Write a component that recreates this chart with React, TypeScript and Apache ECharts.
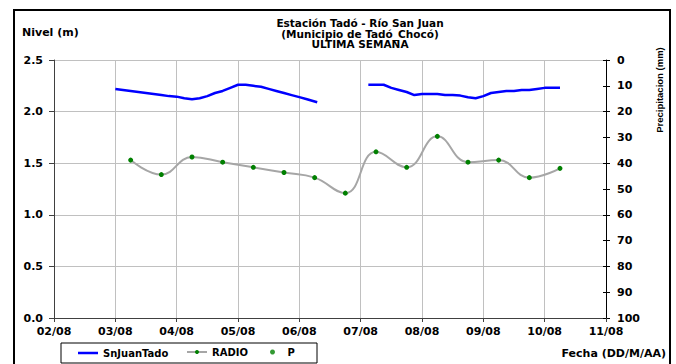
import React, { useEffect, useRef } from "react";
import * as echarts from "echarts";

const dayLabels = ["02/08", "03/08", "04/08", "05/08", "06/08", "07/08", "08/08", "09/08", "10/08", "11/08"];

const titleLines = ["Estación Tadó - Río San Juan", "(Municipio de Tadó_Chocó)", "ULTIMA SEMANA"];

const levelTimes = [
  "03/08 00:00", "03/08 03:00", "03/08 06:00", "03/08 09:00", "03/08 12:00", "03/08 15:00", "03/08 18:00", "03/08 21:00",
  "04/08 00:00", "04/08 03:00", "04/08 06:00", "04/08 09:00", "04/08 12:00", "04/08 15:00", "04/08 18:00", "04/08 21:00",
  "05/08 00:00", "05/08 03:00", "05/08 06:00", "05/08 09:00", "05/08 12:00", "05/08 15:00", "05/08 18:00", "05/08 21:00",
  "06/08 00:00", "06/08 03:00", "06/08 07:00",
  "06/08 18:00",
  "07/08 03:00", "07/08 06:00", "07/08 09:00", "07/08 12:00", "07/08 15:00", "07/08 18:00", "07/08 21:00",
  "08/08 00:00", "08/08 03:00", "08/08 06:00", "08/08 09:00", "08/08 12:00", "08/08 15:00", "08/08 18:00", "08/08 21:00",
  "09/08 00:00", "09/08 03:00", "09/08 06:00", "09/08 09:00", "09/08 12:00", "09/08 15:00", "09/08 18:00", "09/08 21:00",
  "10/08 00:00", "10/08 03:00", "10/08 06:00",
];
const levelValues: (number | null)[] = [
  2.22, 2.21, 2.2, 2.19, 2.18, 2.17, 2.16, 2.15,
  2.145, 2.13, 2.12, 2.13, 2.15, 2.18, 2.2, 2.23,
  2.26, 2.26, 2.25, 2.24, 2.22, 2.2, 2.18, 2.16,
  2.14, 2.12, 2.09,
  null,
  2.26, 2.26, 2.26, 2.23, 2.21, 2.19, 2.16,
  2.17, 2.17, 2.17, 2.16, 2.16, 2.155, 2.14, 2.13,
  2.15, 2.18, 2.19, 2.2, 2.2, 2.21, 2.21, 2.22,
  2.23, 2.23, 2.23,
];

const radioTimes = [
  "03/08 06:00", "03/08 18:00", "04/08 06:00", "04/08 18:00", "05/08 06:00", "05/08 18:00", "06/08 06:00", "06/08 18:00",
  "07/08 06:00", "07/08 18:00", "08/08 06:00", "08/08 18:00", "09/08 06:00", "09/08 18:00", "10/08 06:00",
];
const radioValues = [1.53, 1.39, 1.56, 1.51, 1.46, 1.41, 1.36, 1.21, 1.61, 1.46, 1.76, 1.51, 1.53, 1.36, 1.45];

const precipTimes: string[] = [];
const precipValues: number[] = [];

const FONT = "DejaVu Sans";

function toHours(t: string): number {
  const [d, hm] = t.split(" ");
  const idx = dayLabels.indexOf(d);
  const [h, m] = hm.split(":").map(Number);
  return idx * 24 + h + m / 60;
}

export default function App() {
  const ref = useRef<HTMLDivElement>(null);
  useEffect(() => {
    if (!ref.current) return;
    const chart = echarts.init(ref.current, null, { renderer: "svg" });
    const levelData = levelTimes.map((t, i) => [toHours(t), levelValues[i] === null ? "-" : levelValues[i]]);
    const radioData = radioTimes.map((t, i) => [toHours(t), radioValues[i]]);
    const precipData = precipTimes.map((t, i) => [toHours(t), precipValues[i]]);
    const labelStyle = { fontFamily: FONT, fontWeight: "bold" as const, fontSize: 11, color: "#000" };
    const legendText = { fontFamily: FONT, fontWeight: "bold" as const, fontSize: 10, color: "#000" };
    const legendBase = {
      top: 347,
      padding: 0,
      itemWidth: 20,
      itemHeight: 5,
      selectedMode: false,
      textStyle: legendText,
    };
    chart.setOption({
      animation: false,
      backgroundColor: "#fff",
      grid: { left: 54, right: 70, top: 60, bottom: 46 },
      legend: [
        { ...legendBase, left: 78, top: 348, itemHeight: 2.5, data: [{ name: "SnJuanTado", icon: "rect" }] },
        { ...legendBase, left: 186, data: ["RADIO"] },
        { ...legendBase, left: 270, data: [{ name: "P", icon: "circle" }] },
      ],
      xAxis: {
        type: "value",
        min: 0,
        max: (dayLabels.length - 1) * 24,
        interval: 24,
        axisLine: { show: true, lineStyle: { color: "#404040", width: 1 } },
        axisTick: { show: true, length: 4, lineStyle: { color: "#404040" } },
        axisLabel: {
          ...labelStyle,
          margin: 8,
          formatter: (v: number) => dayLabels[Math.round(v / 24)] ?? "",
        },
        splitLine: { show: true, lineStyle: { color: "#c0c0c0", width: 1 } },
      },
      yAxis: [
        {
          type: "value",
          min: 0,
          max: 2.5,
          interval: 0.5,
          position: "left",
          axisLine: { show: true, lineStyle: { color: "#404040", width: 1 } },
          axisTick: { show: true, length: 5, lineStyle: { color: "#404040" } },
          axisLabel: { ...labelStyle, margin: 11, formatter: (v: number) => v.toFixed(1) },
          splitLine: { show: true, lineStyle: { color: "#c0c0c0", width: 1 } },
        },
        {
          type: "value",
          min: 0,
          max: 100,
          interval: 10,
          inverse: true,
          position: "right",
          axisLine: { show: true, lineStyle: { color: "#000", width: 1 } },
          axisTick: { show: true, length: 4, lineStyle: { color: "#000" } },
          axisLabel: { ...labelStyle, margin: 11 },
          splitLine: { show: false },
        },
        {
          type: "value",
          min: 0,
          max: 100,
          interval: 10,
          inverse: true,
          position: "right",
          axisLine: { show: false },
          axisTick: { show: true, inside: true, length: 3, lineStyle: { color: "#000" } },
          axisLabel: { show: false },
          splitLine: { show: false },
        },
      ],
      series: [
        {
          name: "SnJuanTado",
          type: "line",
          yAxisIndex: 0,
          data: levelData,
          symbol: "none",
          connectNulls: false,
          lineStyle: { color: "#0000ff", width: 2.5 },
          itemStyle: { color: "#0000ff" },
          z: 3,
        },
        {
          name: "RADIO",
          type: "line",
          yAxisIndex: 0,
          data: radioData,
          smooth: 0.45,
          symbol: "circle",
          symbolSize: 5,
          showSymbol: true,
          lineStyle: { color: "#a6a6a6", width: 2 },
          itemStyle: { color: "#008000", borderWidth: 0 },
          z: 2,
        },
        {
          name: "P",
          type: "scatter",
          yAxisIndex: 1,
          data: precipData,
          symbol: "circle",
          symbolSize: 4,
          itemStyle: { color: "#008000" },
        },
      ],
      graphic: [
        {
          type: "rect",
          shape: { x: 14, y: 10, width: 656, height: 362 },
          style: { fill: "none", stroke: "#000", lineWidth: 2 },
          silent: true,
          z: 100,
        },
        {
          type: "rect",
          shape: { x: 61, y: 343, width: 256, height: 20 },
          style: { fill: "none", stroke: "#000", lineWidth: 1 },
          silent: true,
          z: 100,
        },
        {
          type: "text",
          x: 360,
          y: 17.5,
          style: {
            text: titleLines.join("\n"),
            fontFamily: FONT,
            fontWeight: "bold",
            fontSize: 10.5,
            lineHeight: 10.7,
            fill: "#000",
            textAlign: "center",
            textVerticalAlign: "top",
          },
        },
        {
          type: "text",
          x: 22,
          y: 32,
          style: {
            text: "Nivel (m)",
            fontFamily: FONT,
            fontWeight: "bold",
            fontSize: 11,
            fill: "#000",
            textAlign: "left",
            textVerticalAlign: "middle",
          },
        },
        {
          type: "text",
          x: 659,
          y: 90,
          rotation: Math.PI / 2,
          style: {
            text: "Precipitacion (mm)",
            fontFamily: "Liberation Sans",
            fontWeight: "bold",
            fontSize: 9.5,
            fill: "#000",
            textAlign: "center",
            textVerticalAlign: "middle",
          },
        },
        {
          type: "text",
          x: 666,
          y: 353,
          style: {
            text: "Fecha (DD/M/AA)",
            fontFamily: FONT,
            fontWeight: "bold",
            fontSize: 11,
            fill: "#000",
            textAlign: "right",
            textVerticalAlign: "middle",
          },
        },
      ],
    });
    return () => chart.dispose();
  }, []);
  return (
    <div
      ref={ref}
      style={{ position: "fixed", left: 0, top: 0, width: 676, height: 364, background: "#fff" }}
    />
  );
}
